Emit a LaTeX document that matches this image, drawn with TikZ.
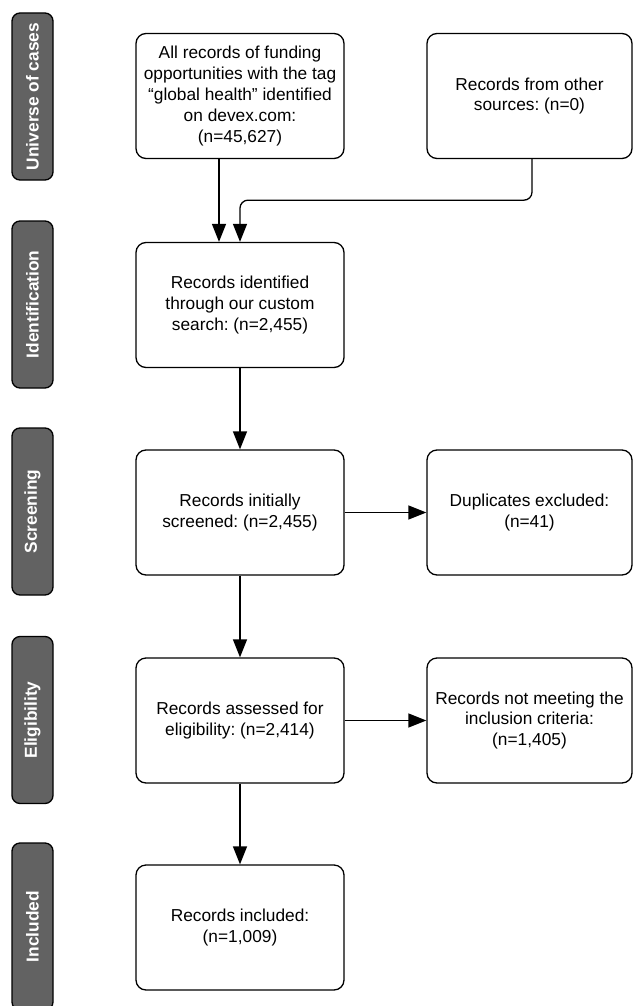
\documentclass[tikz,border=0pt]{standalone}
\usepackage{fontspec}
\setmainfont{Liberation Sans}
\usetikzlibrary{arrows.meta}
\definecolor{sidegray}{RGB}{98,98,98}
\frenchspacing
\begin{document}
\begin{tikzpicture}[x=1pt,y=-1pt,
  font=\fontsize{17.3}{20.8}\selectfont\frenchspacing,
  box/.style={draw, line width=1.3pt, rounded corners=10pt, minimum width=208pt, minimum height=125pt, align=center, inner sep=0pt},
  rbox/.style={box, minimum width=205pt},
  side/.style={draw, line width=1.3pt, fill=sidegray, rounded corners=8pt, minimum width=167pt, minimum height=41pt, rotate=90, text=white, font=\fontsize{17.3}{20.8}\selectfont\bfseries, inner sep=0pt},
  arr/.style={line width=1.3pt, -{Triangle[length=18pt,width=14pt]}}
]
\useasboundingbox (0,0) rectangle (633,1006);
\clip (0,0) rectangle (633,1006);

\node[side] (s1) at (32.5,96.5) {Universe of cases};
\node[side] (s2) at (32.5,304.5) {Identification};
\node[side] (s3) at (32.5,511.5) {Screening};
\node[side] (s4) at (32.5,720) {Eligibility};
\node[side] (s5) at (32.5,926.5) {Included};

\node[box] (u1) at (240,96) {All records of funding\\opportunities with the tag\\``global health'' identified\\on devex.com:\\(n=45,627)};
\node[rbox] (u2) at (529.5,96) {Records from other\\sources: (n=0)};
\node[box] (id) at (240,305) {Records identified\\through our custom\\search: (n=2,455)};
\node[box] (sc) at (240,512.5) {Records initially\\screened: (n=2,455)};
\node[rbox] (dup) at (529.5,512.5) {Duplicates excluded:\\(n=41)};
\node[box] (el) at (240,720.5) {Records assessed for\\eligibility: (n=2,414)};
\node[rbox] (nm) at (529.5,720.5) {Records not meeting the\\inclusion criteria:\\(n=1,405)};
\node[box] (inc) at (240,927.5) {Records included:\\(n=1,009)};

\draw[arr] ([xshift=-21pt]u1.south) -- ([xshift=-21pt]id.north);
\draw[arr, rounded corners=8pt] ([xshift=2.5pt]u2.south) -- ++(0,41) -| (id.north);
\draw[arr] (id) -- (sc);
\draw[arr] (sc) -- (el);
\draw[arr] (el) -- (inc);
\draw[arr] (sc) -- (dup);
\draw[arr] (el) -- (nm);
\end{tikzpicture}
\end{document}
